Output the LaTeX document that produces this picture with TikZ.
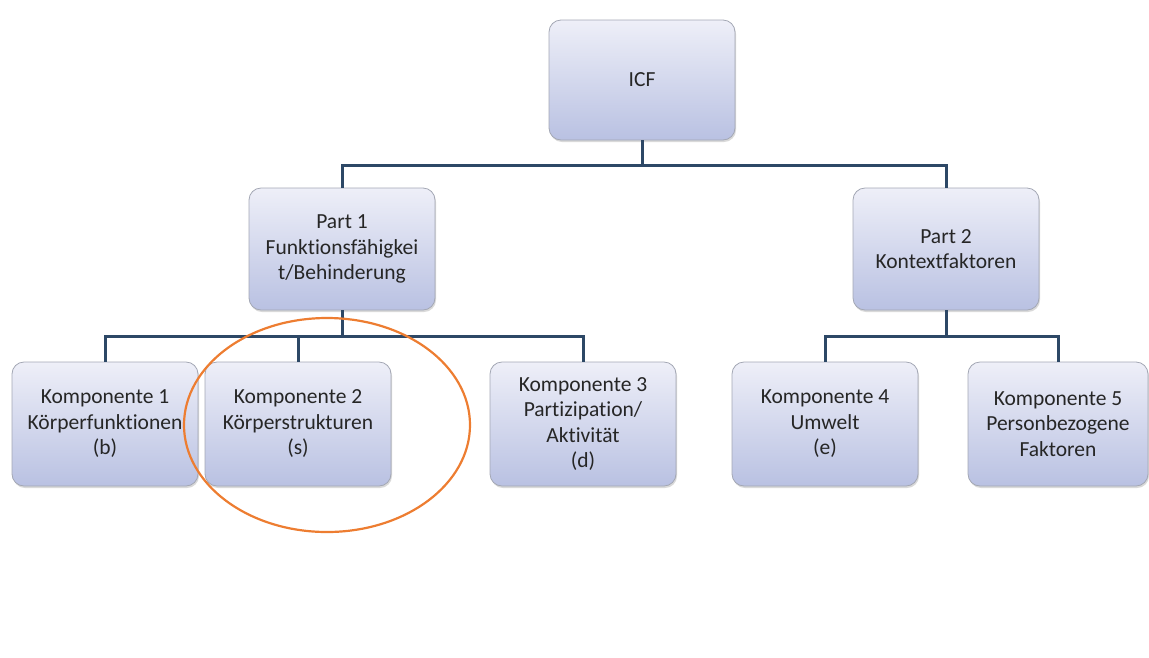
\documentclass[tikz,border=0pt]{standalone}
\usepackage{fontspec}
\setmainfont[Ligatures=NoCommon]{Carlito}
\usetikzlibrary{shadows}
\definecolor{linkblue}{HTML}{2D4866}
\definecolor{boxtop}{HTML}{EEEFF8}
\definecolor{boxbottom}{HTML}{B9C1E2}
\definecolor{boxedge}{HTML}{A3A7B4}
\definecolor{ringorange}{HTML}{ED7D31}
\begin{document}
\begin{tikzpicture}[x=1pt,y=-1pt,
	box/.style={draw=boxedge, line width=0.8pt, rounded corners=12pt,
		top color=boxtop, bottom color=boxbottom,
		minimum width=186pt, minimum height=124pt, inner sep=1pt,
		align=center, text=black!85, font=\fontsize{21.5}{25.5}\selectfont,
		drop shadow={shadow xshift=1pt, shadow yshift=-2pt, opacity=0.25, fill=black!60}},
	link/.style={draw=linkblue, line width=3pt}]
	\useasboundingbox (0,0) rectangle (1149,657);
	% top level
	\node[box, minimum height=120pt] (icf) at (642,80) {ICF};
	% parts
	\node[box, minimum height=122pt] (part1) at (342,249) {Part 1\\Funktionsfähigkei\\t/Behinderung};
	\node[box, minimum height=122pt] (part2) at (946,249) {Part 2\\Kontextfaktoren};
	% components
	\node[box] (komp1) at (105,424) {Komponente 1\\Körperfunktionen\\(b)};
	\node[box] (komp2) at (298,424) {Komponente 2\\Körperstrukturen\\(s)};
	\node[box] (komp3) at (583,424) {Komponente 3\\Partizipation/\\Aktivität\\(d)};
	\node[box] (komp4) at (825,424) {Komponente 4\\Umwelt\\(e)};
	\node[box, minimum width=180pt] (komp5) at (1058,424) {Komponente 5\\Personbezogene\\Faktoren};
	% connectors
	\draw[link] (icf.south) -- ++(0,25) -| (part1.north);
	\draw[link] (icf.south) -- ++(0,25) -| (part2.north);
	\draw[link] (part1.south) -- ++(0,26) -| (komp1.north);
	\draw[link] (part1.south) -- ++(0,26) -| (komp2.north);
	\draw[link] (part1.south) -- ++(0,26) -| (komp3.north);
	\draw[link] (part2.south) -- ++(0,26) -| (komp4.north);
	\draw[link] (part2.south) -- ++(0,26) -| (komp5.north);
	% marking
	\draw[ringorange, line width=2.2pt] (327,425) ellipse (143 and 107);
\end{tikzpicture}
\end{document}
